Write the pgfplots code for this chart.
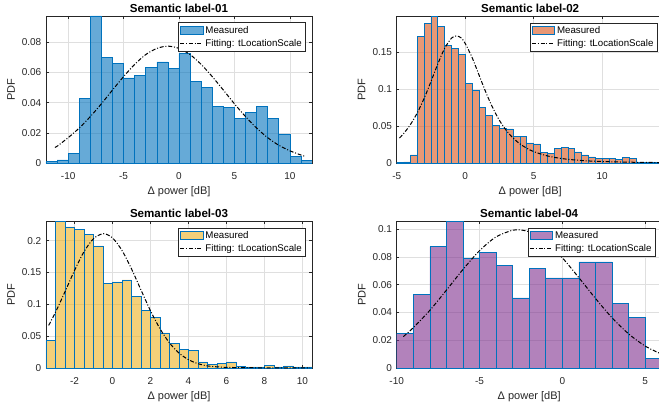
\documentclass[border=0pt]{standalone}
\usepackage{fontspec}
\setmainfont{Liberation Sans}
\usepackage{pgfplots}
\pgfplotsset{compat=1.18}

% MATLAB default colours
\definecolor{mblue}{RGB}{0,114,189}
\definecolor{morange}{RGB}{217,83,25}
\definecolor{myellow}{RGB}{237,177,32}
\definecolor{mpurple}{RGB}{126,47,142}
\definecolor{axgray}{RGB}{38,38,38}
\definecolor{gridgray}{RGB}{223,223,223}

\pgfplotsset{
  hist/.style={
    scale only axis, width=266pt, height=147pt,
    ymin=0,
    axis line style={draw=axgray, line width=0.6pt},
    tick style={draw=axgray, line width=0.6pt},
    major tick length=2.7pt,
    grid=major, grid style={draw=gridgray, line width=0.5pt},
    /pgf/number format/assume math mode=true,
    scaled ticks=false,
    ticklabel style={font=\fontsize{10}{12}\selectfont, text=axgray, inner sep=0pt},
    yticklabel style={/pgf/number format/fixed, /pgf/number format/precision=2,
                      anchor=east, xshift=-4.5pt},
    xticklabel style={anchor=north, yshift=-9pt},
    title style={font=\fontsize{11.6}{13}\selectfont\bfseries,
                 at={(axis description cs:0.5,1)}, anchor=south, inner sep=0pt, yshift=-3.3pt},
    xlabel={Δ power [dB]},
    ylabel={PDF},
    xlabel style={font=\fontsize{11}{13}\selectfont, text=axgray,
                  at={(axis description cs:0.5,-0.16)}, anchor=north, inner sep=0pt},
    ylabel style={font=\fontsize{11}{13}\selectfont, text=axgray,
                  at={(axis description cs:-0.1165,0.5)}, anchor=south, inner sep=0pt},
    legend style={at={(0.9756,0.9558)}, anchor=north east,
                  draw=axgray, line width=0.5pt, fill=white,
                  font=\fontsize{9.7}{11}\selectfont,
                  inner xsep=1.5pt, inner ysep=1.5pt, row sep=0.5pt,
                  nodes={inner sep=2pt}},
    legend cell align=left,
  },
  measured/.style={ybar interval, fill=#1, fill opacity=0.6, draw=mblue, line width=0.6pt,
    legend image code/.code={\draw[##1] (0pt,-4.2pt) rectangle (22.7pt,4.2pt);}},
  fitline/.style={black, line width=1pt, smooth,
    dash pattern=on 4pt off 1.8pt on 1pt off 1.8pt,
    legend image code/.code={\draw[##1] (0pt,0pt) -- (22.7pt,0pt);}},
}

\begin{document}
\begin{tikzpicture}

% ---------------- label-01
\begin{axis}[hist, at={(46pt,-163pt)}, anchor=south west,
  title={Semantic label-01},
  xmin=-12, xmax=12, ymax=0.0975,
  xtick={-10,-5,0,5,10}, ytick={0,0.02,0.04,0.06,0.08}]
\addplot[measured=mblue] coordinates {
 (-12,0.0008) (-11,0.0020) (-10,0.0066) (-9,0.0430) (-8,0.0975) (-7,0.0700)
 (-6,0.0660) (-5,0.0564) (-4,0.0582) (-3,0.0636) (-2,0.0670) (-1,0.0630)
 (0,0.0727) (1,0.0540) (2,0.0502) (3,0.0373) (4,0.0371) (5,0.0294)
 (6,0.0337) (7,0.0373) (8,0.0294) (9,0.0193) (10,0.0042) (11,0.0018) (12,0.0018)};
\addplot[fitline] coordinates {
 (-11.2,0.0104) (-11,0.0111) (-10,0.0168) (-9,0.0232) (-8,0.0308) (-7,0.0393)
 (-6,0.0484) (-5,0.0573) (-4,0.0654) (-3,0.0719) (-2,0.0760) (-1,0.0775)
 (0,0.0760) (1,0.0719) (2,0.0654) (3,0.0573) (4,0.0484) (5,0.0393)
 (6,0.0308) (7,0.0232) (8,0.0168) (9,0.0118) (10,0.0081) (11,0.0053) (11.3,0.0046)};
\legend{Measured, Fitting: tLocationScale}
\end{axis}

% ---------------- label-02
\begin{axis}[hist, at={(396.7pt,-163pt)}, anchor=south west, width=267pt,
  title={Semantic label-02},
  xmin=-5, xmax=14.5, ymax=0.199,
  xtick={-5,0,5,10}, ytick={0,0.05,0.1,0.15}]
\addplot[measured=morange] coordinates {
 (-5,0.0004) (-4.5,0.0014) (-4,0.0109) (-3.5,0.1709) (-3,0.1890) (-2.5,0.1990)
 (-2,0.1850) (-1.5,0.1595) (-1,0.1550) (-0.5,0.1468) (0,0.1074) (0.5,0.0979)
 (1,0.0748) (1.5,0.0648) (2,0.0512) (2.5,0.0467) (3,0.0462) (3.5,0.0362)
 (4,0.0362) (4.5,0.0272) (5,0.0258) (5.5,0.0145) (6,0.0127) (6.5,0.0195)
 (7,0.0208) (7.5,0.0199) (8,0.0150) (8.5,0.0109) (9,0.0082) (9.5,0.0059)
 (10,0.0059) (10.5,0.0059) (11,0.0054) (11.5,0.0072) (12,0.0063) (12.5,0.0009)
 (13,0.0005) (13.5,0.0005) (14,0.0003) (14.5,0.0003)};
\addplot[fitline] coordinates {
 (-4.8,0.0338) (-4.5,0.0397) (-4,0.0520) (-3.5,0.0678) (-3,0.0874) (-2.5,0.1101)
 (-2,0.1340) (-1.5,0.1552) (-1,0.1690) (-0.65,0.1720) (-0.3,0.1695) (0,0.1619)
 (0.5,0.1431) (1,0.1197) (1.5,0.0962) (2,0.0752) (2.5,0.0578) (3,0.0442)
 (3.5,0.0338) (4,0.0259) (4.5,0.0200) (5,0.0155) (6,0.0096) (7,0.0062)
 (8,0.0041) (9,0.0028) (10,0.0020) (11,0.0015) (12,0.0011) (13,0.0008) (14.5,0.0006)};
\legend{Measured, Fitting: tLocationScale}
\end{axis}

% ---------------- label-03
\begin{axis}[hist, at={(46pt,-368pt)}, anchor=south west,
  title={Semantic label-03},
  xmin=-3.5, xmax=10.5, ymax=0.231,
  xtick={-2,0,2,4,6,8,10}, ytick={0,0.05,0.1,0.15,0.2}]
\addplot[measured=myellow] coordinates {
 (-3.5,0.0437) (-3,0.2310) (-2.5,0.2216) (-2,0.2184) (-1.5,0.2105) (-1,0.1920)
 (-0.5,0.1326) (0,0.1353) (0.5,0.1384) (1,0.1121) (1.5,0.0911) (2,0.0795)
 (2.5,0.0553) (3,0.0384) (3.5,0.0289) (4,0.0274) (4.5,0.0095) (5,0.0053)
 (5.5,0.0068) (6,0.0095) (6.5,0.0021) (7,0.0016) (7.5,0.0016) (8,0.0037)
 (8.5,0.0016) (9,0.0032) (9.5,0.0016) (10,0.0016) (10.5,0.0016)};
\addplot[fitline] coordinates {
 (-3.36,0.0669) (-3,0.0876) (-2.5,0.1199) (-2,0.1532) (-1.5,0.1827) (-1,0.2032)
 (-0.48,0.2110) (0,0.2044) (0.5,0.1847) (1,0.1558) (1.5,0.1226) (2,0.0900)
 (2.5,0.0617) (3,0.0394) (3.5,0.0235) (4,0.0131) (4.5,0.0068) (5,0.0033)
 (5.5,0.0018) (6,0.0010) (7,0.0005) (8,0.0003) (9,0.0002) (10.4,0.0001)};
\legend{Measured, Fitting: tLocationScale}
\end{axis}

% ---------------- label-04
\begin{axis}[hist, at={(396.7pt,-368pt)}, anchor=south west, width=265pt,
  title={Semantic label-04},
  xmin=-10, xmax=6, ymax=0.1058,
  xtick={-10,-5,0,5}, ytick={0,0.02,0.04,0.06,0.08,0.1}]
\addplot[measured=mpurple] coordinates {
 (-10,0.0248) (-9,0.0529) (-8,0.0873) (-7,0.1058) (-6,0.0788) (-5,0.0832)
 (-4,0.0740) (-3,0.0505) (-2,0.0716) (-1,0.0649) (0,0.0649) (1,0.0764)
 (2,0.0764) (3,0.0464) (4,0.0363) (5,0.0072) (6,0.0072)};
\addplot[fitline] coordinates {
 (-9.6,0.0226) (-9,0.0290) (-8,0.0415) (-7,0.0560) (-6,0.0709) (-5,0.0844)
 (-4,0.0944) (-3,0.0992) (-2.7,0.0995) (-2,0.0980) (-1,0.0909) (0,0.0793)
 (1,0.0650) (2,0.0501) (3,0.0362) (4,0.0246) (5,0.0158) (6,0.0099)};
\legend{Measured, Fitting: tLocationScale}
\end{axis}

\pgfresetboundingbox
\path[use as bounding box] (0pt,0pt) rectangle (659pt,-407pt);
\end{tikzpicture}
\end{document}
